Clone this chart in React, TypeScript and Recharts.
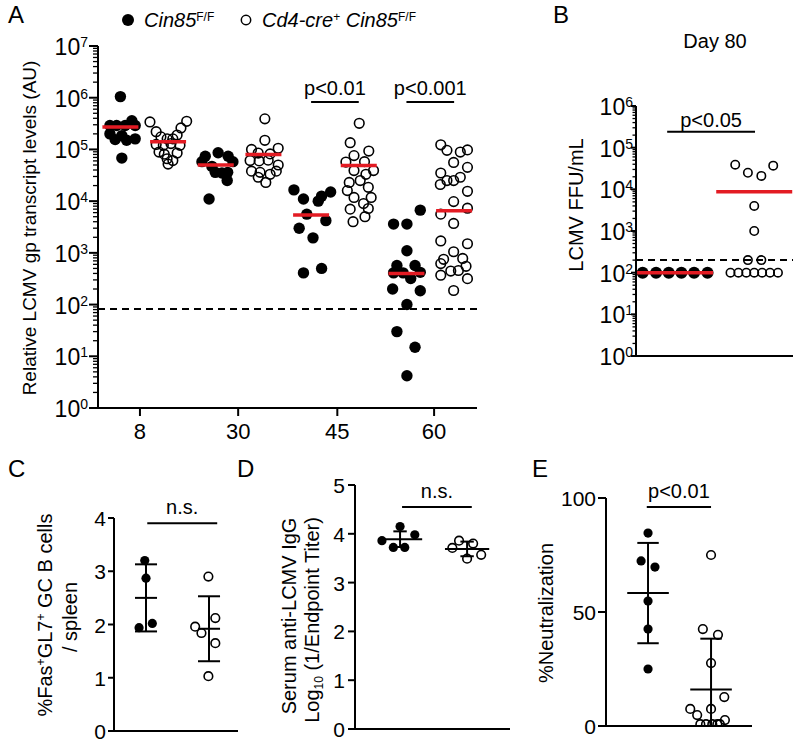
import React from "react";
import { ScatterChart, Scatter, XAxis, YAxis, ReferenceLine } from "recharts";

const W = 800;
const H = 742;
const FONT = '"Liberation Sans", Arial, Helvetica, sans-serif';
const INK = "#000";
const RED = "#e31b23";

// ---------- A: LCMV gp transcripts, [jitter, value] per mouse ----------
const A_DAYS = ["8", "30", "45", "60"];
const A_DAY_TICKS = [0.41, 2.47, 4.55, 6.58];

const A_WT_D8 = [[0, 1.05e6], [0.24, 3.6e5], [-0.22, 2.9e5], [-0.08, 2.9e5], [0.1, 2.9e5], [0.31, 2.9e5], [-0.22, 2.0e5], [-0.11, 1.55e5], [0.03, 1.85e5], [0.13, 1.5e5], [0.31, 1.6e5], [0.03, 6.8e4]];
const A_KO_D8 = [[-0.38, 3.4e5], [0.39, 3.5e5], [0.27, 2.6e5], [-0.25, 2.2e5], [0.19, 1.9e5], [-0.15, 1.75e5], [-0.02, 1.6e5], [0.1, 1.6e5], [-0.25, 1.25e5], [-0.1, 1.2e5], [0.06, 1.3e5], [0.25, 1.2e5], [-0.19, 8.9e4], [-0.08, 8.1e4], [0.19, 8.5e4], [-0.02, 6.6e4], [0.1, 6.1e4], [0, 5.2e4]];
const A_WT_D30 = [[-0.22, 7.4e4], [0.05, 8.6e4], [0.26, 7.4e4], [-0.29, 5.8e4], [0.36, 5.8e4], [-0.08, 4.7e4], [-0.01, 3.6e4], [0.13, 3.5e4], [0.25, 3.6e4], [0.24, 2.5e4], [-0.14, 1.1e4]];
const A_KO_D30 = [[0.03, 3.9e5], [0.03, 1.5e5], [-0.25, 1.0e5], [0.31, 1.05e5], [-0.11, 8.5e4], [0.14, 8.2e4], [-0.28, 6.1e4], [-0.09, 6.0e4], [0.1, 6.2e4], [0.31, 5.0e4], [-0.25, 3.8e4], [-0.07, 3.6e4], [0.14, 3.3e4], [0.27, 3.8e4], [-0.11, 2.9e4], [0.05, 2.3e4]];
const A_WT_D45 = [[-0.36, 1.65e4], [-0.16, 1.1e4], [0.15, 1.0e4], [0.22, 1.25e4], [0.41, 1.5e4], [-0.09, 5.6e3], [-0.25, 3.0e3], [0.31, 4.2e3], [0.04, 1.95e3], [-0.16, 410], [0.22, 500]];
const A_KO_D45 = [[0.01, 3.2e5], [-0.18, 1.35e5], [0.21, 9.3e4], [-0.1, 7.6e4], [-0.27, 5.7e4], [0.12, 5.8e4], [0.31, 3.9e4], [-0.1, 3.9e4], [0.15, 3.3e4], [0.03, 2.5e4], [-0.2, 2.3e4], [-0.24, 1.6e4], [0.2, 1.85e4], [-0.1, 1.18e4], [0.26, 1.18e4], [0.1, 9.0e3], [-0.18, 7.0e3], [0.2, 7.2e3], [0.13, 5.0e3], [-0.12, 4.0e3]];
const A_WT_D60 = [[0.29, 6.7e3], [-0.27, 3.6e3], [0.01, 3.6e3], [0.01, 1.1e3], [-0.2, 570], [0.18, 570], [-0.27, 410], [-0.07, 410], [0.29, 420], [0.09, 320], [-0.29, 200], [0.29, 185], [0.01, 100], [-0.2, 30], [0.18, 15], [0.01, 4.2]];
const A_KO_D60 = [[-0.28, 1.23e5], [-0.15, 9.6e4], [0.13, 8.9e4], [0.28, 9.8e4], [-0.01, 5.6e4], [0.28, 4.5e4], [-0.28, 3.5e4], [0.13, 2.9e4], [-0.15, 2.5e4], [-0.01, 2.5e4], [-0.29, 2.1e4], [0.28, 1.55e4], [-0.01, 9.8e3], [-0.28, 5.6e3], [0.28, 7.3e3], [-0.01, 3.7e3], [-0.28, 1.7e3], [0.28, 1.5e3], [-0.01, 1.05e3], [-0.22, 750], [0.18, 780], [-0.28, 620], [-0.07, 445], [0.09, 456], [0.25, 550], [-0.28, 370], [0.28, 317], [-0.01, 187]];

const A_WT_MEDIAN = [2.7e5, 5.0e4, 5.4e3, 400];
const A_KO_MEDIAN = [1.4e5, 8.0e4, 4.9e4, 6.5e3];
const A_LIMIT = 82;
const A_SIG = [
  { from: 4, to: 5, y: 8.3e5, text: "p<0.01" },
  { from: 6, to: 7, y: 8.3e5, text: "p<0.001" },
];

// ---------- B: day 80 FFU/mL ----------
const B_WT = [[-0.41, 100], [-0.24, 100], [-0.08, 100], [0.08, 100], [0.24, 100], [0.41, 100]];
const B_KO = [[-0.3, 100], [-0.2, 100], [-0.1, 100], [0, 100], [0.1, 100], [0.2, 100], [0.3, 100], [-0.08, 200], [0.09, 200], [0, 1000], [0, 4000], [-0.24, 3.9e4], [-0.08, 2.5e4], [0.09, 2.1e4], [0.24, 3.7e4]];
const B_MEDIAN = [100, 8700];
const B_LIMIT = 200;
const B_SIG = { from: 0.9, to: 2.01, y: 2.4e5, text: "p<0.05" };

// ---------- C: GC B cells ----------
const C_WT = [[-0.02, 3.2], [0, 2.87], [-0.11, 1.94], [0.1, 2.02]];
const C_KO = [[-0.01, 2.9], [-0.22, 1.96], [-0.12, 1.84], [0.1, 2.12], [0.1, 1.65], [-0.01, 1.03]];
const C_MEAN = [2.5, 1.92];
const C_SD = [0.63, 0.61];
const C_SIG = { from: 1.02, to: 2.13, y: 3.9, text: "n.s." };

// ---------- D: anti-LCMV IgG ----------
const D_WT = [[-0.27, 3.86], [-0.1, 3.72], [0, 4.15], [0.07, 3.72], [0.22, 3.98]];
const D_KO = [[-0.22, 3.71], [-0.12, 3.86], [0, 3.49], [0.09, 3.8], [0.21, 3.57]];
const D_MEAN = [3.89, 3.69];
const D_SD = [0.16, 0.15];
const D_SIG = { from: 1.03, to: 2.07, y: 4.55, text: "n.s." };

// ---------- E: neutralization ----------
const E_WT = [[0, 84.6], [-0.11, 72.4], [0.11, 69.7], [0, 54.8], [0, 42.5], [0, 25]];
const E_KO = [[0, 75], [-0.13, 42.5], [0.11, 40], [0, 27.6], [0.21, 12.7], [0, 7.5], [-0.33, 7.5], [-0.22, 4.8], [0.22, 2.6], [-0.17, 0.8], [-0.08, 0.8], [0.02, 0.8], [0.1, 0.8], [0.14, 0.8]];
const E_MEAN = [58.3, 16];
const E_SD = [22, 22.3];
const E_SIG = { from: 0.98, to: 2.0, y: 96, text: "p<0.01" };

const logTicks = (top: number) => {
  const out: number[] = [];
  for (let k = 0; k < top; k++) for (let m = 1; m < 10; m++) out.push(m * Math.pow(10, k));
  out.push(Math.pow(10, top));
  return out;
};

const toPts = (g: number[][], center: number) => g.map(([dx, v]) => ({ x: center + dx, y: v }));

const dot = (r: number, open: boolean) => (p: any) => (
  <circle
    cx={p.cx}
    cy={p.cy}
    r={r}
    fill={open ? "none" : INK}
    stroke={open ? INK : "none"}
    strokeWidth={open ? 1.6 : 0}
  />
);

// median bar drawn as a scatter mark so it sits on top of the dots
const bar = (half: number) => (p: any) => (
  <line x1={p.cx - half} x2={p.cx + half} y1={p.cy} y2={p.cy} stroke={RED} strokeWidth={3.5} />
);

function LogTick(props: any) {
  const { x, y, payload, major, minor, gap } = props;
  const lg = Math.log10(payload.value);
  const e = Math.round(lg);
  const isMajor = Math.abs(lg - e) < 1e-6;
  const len = isMajor ? major : minor;
  return (
    <g>
      <line x1={x} x2={x - len} y1={y} y2={y} stroke={INK} strokeWidth={isMajor ? 2 : 1.3} />
      {isMajor && (
        <text x={x - len - gap} y={y + 9} textAnchor="end" fontSize={23} fill={INK}>
          10
          <tspan dy={-8} fontSize={14}>
            {e}
          </tspan>
        </text>
      )}
    </g>
  );
}

function LinTick(props: any) {
  const { x, y, payload, len, gap } = props;
  return (
    <g>
      <line x1={x} x2={x - len} y1={y} y2={y} stroke={INK} strokeWidth={2} />
      <text x={x - len - gap} y={y + 8} textAnchor="end" fontSize={21} fill={INK}>
        {payload.value}
      </text>
    </g>
  );
}

const axisLine = { stroke: INK, strokeWidth: 2 };
const layer: React.CSSProperties = { position: "absolute", left: 0, top: 0 };

function sigLine(s: { from: number; to: number; y: number; text: string }, offset: number) {
  return (
    <ReferenceLine
      key={s.text + s.from}
      segment={[{ x: s.from, y: s.y }, { x: s.to, y: s.y }]}
      stroke={INK}
      strokeWidth={2}
      ifOverflow="visible"
      label={{ value: s.text, position: "top", offset, fontSize: 20, fill: INK }}
    />
  );
}

function meanSd(c: number, m: number, sd: number, hw: number, cap: number) {
  const segs = [
    [{ x: c - hw, y: m }, { x: c + hw, y: m }],
    [{ x: c, y: m - sd }, { x: c, y: m + sd }],
    [{ x: c - cap, y: m + sd }, { x: c + cap, y: m + sd }],
    [{ x: c - cap, y: m - sd }, { x: c + cap, y: m - sd }],
  ];
  return segs.map((s, i) => (
    <ReferenceLine key={`${c}-${i}`} segment={s} stroke={INK} strokeWidth={2} ifOverflow="hidden" />
  ));
}

function PanelA() {
  const wt = [A_WT_D8, A_WT_D30, A_WT_D45, A_WT_D60].flatMap((g, d) => toPts(g, 2 * d));
  const ko = [A_KO_D8, A_KO_D30, A_KO_D45, A_KO_D60].flatMap((g, d) => toPts(g, 2 * d + 1));
  const medians = [
    ...A_WT_MEDIAN.map((m, d) => ({ x: 2 * d, y: m })),
    ...A_KO_MEDIAN.map((m, d) => ({ x: 2 * d + 1, y: m })),
  ];
  return (
    <div style={layer}>
      <ScatterChart width={W} height={H} margin={{ top: 46, right: 323, bottom: 304, left: 48 }}>
        <XAxis
          type="number"
          dataKey="x"
          domain={[-0.47, 7.48]}
          ticks={A_DAY_TICKS}
          interval={0}
          allowDataOverflow
          tickFormatter={(v: number) => A_DAYS[A_DAY_TICKS.indexOf(v)]}
          height={30}
          axisLine={axisLine}
          tickLine={{ stroke: INK, strokeWidth: 2 }}
          tickSize={8}
          tickMargin={7}
          tick={{ fontSize: 22, fill: INK }}
        />
        <YAxis
          type="number"
          dataKey="y"
          scale="log"
          domain={[1, 1e7]}
          allowDataOverflow
          ticks={logTicks(7)}
          interval={0}
          width={50}
          axisLine={axisLine}
          tickLine={false}
          tickSize={0}
          tickMargin={0}
          tick={(p: any) => <LogTick {...p} major={9} minor={5} gap={1} />}
        />
        <ReferenceLine y={A_LIMIT} stroke={INK} strokeWidth={2} strokeDasharray="7 5" />
        <Scatter data={wt} shape={dot(5.7, false)} isAnimationActive={false} />
        <Scatter data={ko} shape={dot(4.8, true)} isAnimationActive={false} />
        <Scatter data={medians} shape={bar(18)} isAnimationActive={false} />
        {A_SIG.map((s) => sigLine(s, 7))}
      </ScatterChart>
    </div>
  );
}

function PanelB() {
  const medians = B_MEDIAN.map((m, i) => ({ x: i + 1, y: m }));
  return (
    <div style={layer}>
      <ScatterChart width={W} height={H} margin={{ top: 106, right: 7, bottom: 381, left: 586 }}>
        <XAxis type="number" dataKey="x" domain={[0.506, 2.49]} allowDataOverflow height={5} axisLine={axisLine} tick={false} tickLine={false} />
        <YAxis
          type="number"
          dataKey="y"
          scale="log"
          domain={[1, 1e6]}
          allowDataOverflow
          ticks={logTicks(6)}
          interval={0}
          width={50}
          axisLine={axisLine}
          tickLine={false}
          tickSize={0}
          tickMargin={0}
          tick={(p: any) => <LogTick {...p} major={5} minor={3.5} gap={-2} />}
        />
        <ReferenceLine y={B_LIMIT} stroke={INK} strokeWidth={2} strokeDasharray="7 5" ifOverflow="visible" />
        <Scatter data={toPts(B_WT, 1)} shape={dot(6, false)} isAnimationActive={false} />
        <Scatter data={toPts(B_KO, 2)} shape={dot(4.2, true)} isAnimationActive={false} />
        <Scatter data={medians} shape={bar(38)} isAnimationActive={false} />
        {sigLine(B_SIG, 5)}
      </ScatterChart>
    </div>
  );
}

function DotPanel(props: any) {
  const { margin, xDomain, yMax, yTicks, tickLen, tickGap, wt, ko, mean, sd, hw, cap, sig } = props;
  return (
    <div style={layer}>
      <ScatterChart width={W} height={H} margin={margin}>
        <XAxis type="number" dataKey="x" domain={xDomain} allowDataOverflow height={5} axisLine={axisLine} tick={false} tickLine={false} />
        <YAxis
          type="number"
          dataKey="y"
          domain={[0, yMax]}
          allowDataOverflow
          ticks={yTicks}
          interval={0}
          width={50}
          axisLine={axisLine}
          tickLine={false}
          tickSize={0}
          tickMargin={0}
          tick={(p: any) => <LinTick {...p} len={tickLen} gap={tickGap} />}
        />
        {meanSd(1, mean[0], sd[0], hw, cap)}
        {meanSd(2, mean[1], sd[1], hw, cap)}
        <Scatter data={toPts(wt, 1)} shape={dot(4.6, false)} isAnimationActive={false} />
        <Scatter data={toPts(ko, 2)} shape={dot(4.3, true)} isAnimationActive={false} />
        {sigLine(sig, 9)}
      </ScatterChart>
    </div>
  );
}

function Overlay() {
  return (
    <svg width={W} height={H} style={{ ...layer, pointerEvents: "none" }} fontFamily={FONT} fill={INK}>
      <text x={8} y={23} fontSize={24}>A</text>
      <text x={553} y={23} fontSize={24}>B</text>
      <text x={8} y={477} fontSize={24}>C</text>
      <text x={237} y={477} fontSize={24}>D</text>
      <text x={532} y={477} fontSize={24}>E</text>
      <text x={715} y={48} fontSize={20} textAnchor="middle">Day 80</text>

      <circle cx={128} cy={20} r={6} fill={INK} />
      <text x={144} y={27} fontSize={20}>
        <tspan fontStyle="italic">Cin85</tspan>
        <tspan dy={-6} fontSize={12}>F/F</tspan>
      </text>
      <circle cx={246} cy={20} r={4.7} fill="none" stroke={INK} strokeWidth={1.5} />
      <text x={262} y={27} fontSize={20}>
        <tspan fontStyle="italic">Cd4-cre</tspan>
        <tspan dy={-6} fontSize={12}>+</tspan>
        <tspan dy={6} fontStyle="italic"> Cin85</tspan>
        <tspan dy={-6} fontSize={12}>F/F</tspan>
      </text>

      <text transform="translate(36,228) rotate(-90)" textAnchor="middle" fontSize={19}>
        Relative LCMV gp transcript levels (AU)
      </text>
      <text transform="translate(583,205) rotate(-90)" textAnchor="middle" fontSize={20}>
        LCMV FFU/mL
      </text>
      <text transform="translate(51.5,615) rotate(-90)" textAnchor="middle" fontSize={20}>
        %Fas<tspan dy={-7} fontSize={12}>+</tspan>
        <tspan dy={7}>GL7</tspan>
        <tspan dy={-7} fontSize={12}>+</tspan>
        <tspan dy={7}> GC B cells</tspan>
      </text>
      <text transform="translate(77,617) rotate(-90)" textAnchor="middle" fontSize={20}>
        / spleen
      </text>
      <text transform="translate(296,616) rotate(-90)" textAnchor="middle" fontSize={20}>
        Serum anti-LCMV IgG
      </text>
      <text transform="translate(319,620) rotate(-90)" textAnchor="middle" fontSize={20}>
        Log<tspan dy={4} fontSize={12}>10</tspan>
        <tspan dy={-4}> (1/Endpoint Titer)</tspan>
      </text>
      <text transform="translate(553,613) rotate(-90)" textAnchor="middle" fontSize={20}>
        %Neutralization
      </text>
    </svg>
  );
}

export default function App() {
  return (
    <div style={{ position: "absolute", left: 0, top: 0, width: W, height: H, background: "#fff", fontFamily: FONT }}>
      <PanelA />
      <PanelB />
      <DotPanel
        margin={{ top: 518, right: 562, bottom: 6, left: 64 }}
        xDomain={[0.492, 2.46]}
        yMax={4}
        yTicks={[0, 1, 2, 3, 4]}
        tickLen={6}
        tickGap={2}
        wt={C_WT}
        ko={C_KO}
        mean={C_MEAN}
        sd={C_SD}
        hw={0.175}
        cap={0.175}
        sig={C_SIG}
      />
      <DotPanel
        margin={{ top: 485, right: 290, bottom: 8, left: 305 }}
        xDomain={[0.328, 2.64]}
        yMax={5}
        yTicks={[0, 1, 2, 3, 4, 5]}
        tickLen={7}
        tickGap={3}
        wt={D_WT}
        ko={D_KO}
        mean={D_MEAN}
        sd={D_SD}
        hw={0.33}
        cap={0.1}
        sig={D_SIG}
      />
      <DotPanel
        margin={{ top: 498, right: 48, bottom: 11, left: 556 }}
        xDomain={[0.333, 2.65]}
        yMax={100}
        yTicks={[0, 50, 100]}
        tickLen={8}
        tickGap={2}
        wt={E_WT}
        ko={E_KO}
        mean={E_MEAN}
        sd={E_SD}
        hw={0.33}
        cap={0.17}
        sig={E_SIG}
      />
      <Overlay />
    </div>
  );
}
